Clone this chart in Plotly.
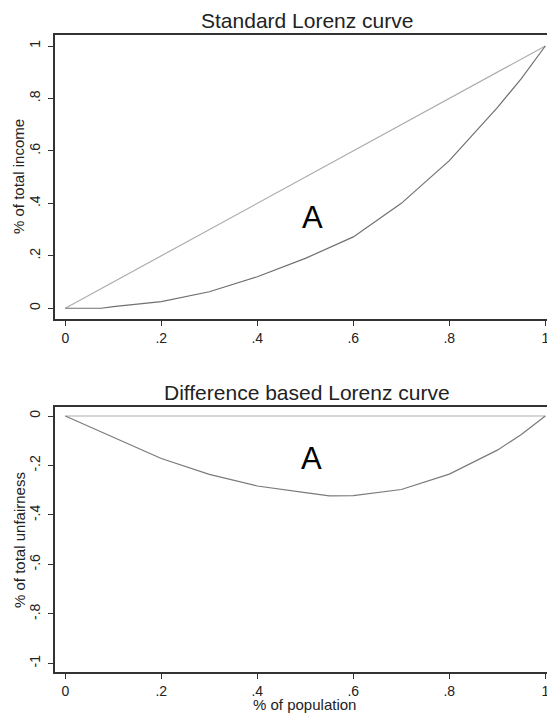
import plotly.graph_objects as go

# ---- data ----
pop = [0, 0.075, 0.1, 0.2, 0.3, 0.4, 0.5, 0.6, 0.7, 0.8, 0.9, 0.95, 1.0]
lorenz = [0, 0.0, 0.006, 0.025, 0.063, 0.12, 0.19, 0.272, 0.40, 0.563, 0.765, 0.876, 1.0]

equality_x = [0, 1]
equality_y = [0, 1]

pop_d = [0, 0.1, 0.2, 0.3, 0.4, 0.5, 0.55, 0.6, 0.7, 0.8, 0.9, 0.95, 1.0]
diff = [0, -0.085, -0.172, -0.236, -0.283, -0.31, -0.323, -0.322, -0.297, -0.235, -0.138, -0.075, 0]

zero_x = [0, 1]
zero_y = [0, 0]

x_tickvals = [0, 0.2, 0.4, 0.6, 0.8, 1]
x_ticktext = ["0", ".2", ".4", ".6", ".8", "1"]
y1_tickvals = [0, 0.2, 0.4, 0.6, 0.8, 1]
y1_ticktext = ["0", ".2", ".4", ".6", ".8", "1"]
y2_tickvals = [-1, -0.8, -0.6, -0.4, -0.2, 0]
y2_ticktext = ["-1", "-.8", "-.6", "-.4", "-.2", "0"]

titles = ["Standard Lorenz curve", "Difference based Lorenz curve"]
ytitles = ["% of total income", "% of total unfairness"]
xtitle = "% of population"

W, H = 547, 716
FONT = "Liberation Sans, Arial, sans-serif"
AX = "#333333"
TXT = "#222222"

fig = go.Figure()
fig.add_trace(go.Scatter(x=equality_x, y=equality_y, mode="lines",
                         line=dict(color="#adadad", width=1.2), xaxis="x", yaxis="y", hoverinfo="skip"))
fig.add_trace(go.Scatter(x=pop, y=lorenz, mode="lines",
                         line=dict(color="#707070", width=1.2), xaxis="x", yaxis="y"))
fig.add_trace(go.Scatter(x=zero_x, y=zero_y, mode="lines",
                         line=dict(color="#adadad", width=1.2), xaxis="x2", yaxis="y2", hoverinfo="skip"))
fig.add_trace(go.Scatter(x=pop_d, y=diff, mode="lines",
                         line=dict(color="#7a7a7a", width=1.2), xaxis="x2", yaxis="y2"))

def px_x(p):
    return p / W

def px_y(p):
    return (H - p) / H

xrange = [-0.0208, 1.0035]
common_x = dict(range=xrange, domain=[px_x(55.3), 1.0], showline=True, linecolor=AX, linewidth=2,
                mirror=True, ticks="outside", ticklen=5, tickwidth=1, tickcolor=AX,
                tickvals=x_tickvals, ticktext=x_ticktext, showgrid=False, zeroline=False,
                tickfont=dict(family=FONT, size=14, color=TXT), automargin=False,
                ticklabeloverflow="allow")
common_y = dict(showline=True, linecolor=AX, linewidth=2, ticks="outside", ticklen=5, tickwidth=1,
                tickcolor=AX, showgrid=False, zeroline=False, tickangle=-90,
                tickfont=dict(family=FONT, size=14, color=TXT), automargin=False,
                ticklabeloverflow="allow", ticklabelstandoff=3)

fig.update_layout(
    width=W, height=H,
    margin=dict(l=0, r=0, t=0, b=0),
    paper_bgcolor="white", plot_bgcolor="white",
    showlegend=False,
    xaxis=dict(common_x, anchor="y"),
    yaxis=dict(common_y, anchor="x", range=[-0.041, 1.042], domain=[px_y(319), px_y(35)],
               tickvals=y1_tickvals, ticktext=y1_ticktext),
    xaxis2=dict(common_x, anchor="y2"),
    yaxis2=dict(common_y, anchor="x2", range=[-1.036, 0.0376], domain=[px_y(672.3), px_y(406.7)],
                tickvals=y2_tickvals, ticktext=y2_ticktext),
)

ann = []
ann.append(dict(text=titles[0], x=px_x(307), y=px_y(20), xref="paper", yref="paper",
                showarrow=False, font=dict(family=FONT, size=21, color=TXT), xanchor="center", yanchor="middle"))
ann.append(dict(text=titles[1], x=px_x(307), y=px_y(392), xref="paper", yref="paper",
                showarrow=False, font=dict(family=FONT, size=21, color=TXT), xanchor="center", yanchor="middle"))
ann.append(dict(text=ytitles[0], x=px_x(19), y=px_y(177), xref="paper", yref="paper", textangle=-90,
                showarrow=False, font=dict(family=FONT, size=15, color=TXT), xanchor="center", yanchor="middle"))
ann.append(dict(text=ytitles[1], x=px_x(19), y=px_y(540), xref="paper", yref="paper", textangle=-90,
                showarrow=False, font=dict(family=FONT, size=15, color=TXT), xanchor="center", yanchor="middle"))
ann.append(dict(text=xtitle, x=px_x(305), y=px_y(704), xref="paper", yref="paper",
                showarrow=False, font=dict(family=FONT, size=15, color=TXT), xanchor="center", yanchor="middle"))
ann.append(dict(text="A", x=0.516, y=0.345, xref="x", yref="y", showarrow=False,
                font=dict(family=FONT, size=31, color="black")))
ann.append(dict(text="A", x=0.512, y=-0.172, xref="x2", yref="y2", showarrow=False,
                font=dict(family=FONT, size=31, color="black")))
fig.update_layout(annotations=ann)

fig.write_html("out.html", config={"displayModeBar": False},
               post_script="document.body.style.margin='0';document.body.style.overflow='hidden';")
